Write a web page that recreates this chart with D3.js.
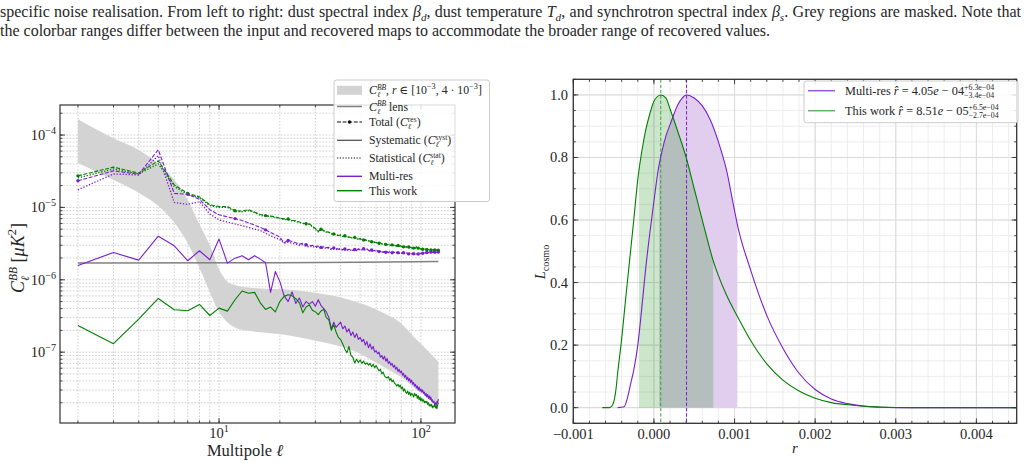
<!DOCTYPE html>
<html><head><meta charset="utf-8">
<script src="https://cdn.jsdelivr.net/npm/d3@7"></script>
<style>
body{margin:0;background:#fff;}
svg text{font-family:"Liberation Serif","Times New Roman","DejaVu Serif",serif;fill:#262626;white-space:pre;}
</style></head><body>
<svg id="c" width="1025" height="463"></svg>
<script>
// ================= DATA =================
// Left panel: multipoles 2..122, spectra in units of 1e-6 muK^2
const ellMin = 2, ellMax = 122;
const ells = d3.range(ellMin, ellMax + 1);
const unit = 1e-6;

const greenTotal = [27.3,36.0,29.8,44.0,20.5,15.6,14.0,10.9,10.3,10.3,
 9.0,8.9,9.3,8.6,8.0,7.7,7.6,7.4,7.1,6.95,
 6.9,6.6,6.55,6.3,6.1,5.95,5.9,5.5,5.1,4.65,
 5.0,4.8,4.6,4.55,4.35,4.3,4.25,4.1,4.15,3.98,
 4.05,3.92,3.9,3.84,3.8,3.86,3.7,3.66,3.7,3.58,
 3.55,3.6,3.45,3.47,3.4,3.35,3.4,3.28,3.3,3.24,
 3.2,3.25,3.14,3.11,3.15,3.08,3.05,3.1,3.02,3.0,
 3.04,2.98,3.0,2.95,2.92,2.98,2.9,2.98,2.88,2.92,
 2.85,2.9,2.82,2.86,2.8,2.84,2.78,2.82,2.76,2.8,
 2.74,2.78,2.72,2.88,2.7,2.74,2.68,2.72,2.66,2.7,
 2.64,2.68,2.66,2.62,2.66,2.6,2.64,2.62,2.6,2.63,
 2.58,2.62,2.6,2.57,2.61,2.58,2.56,2.6,2.57,2.55,
 2.56];
const greenStat = [25.5,34.0,29.0,40.0,19.5,15.0,13.6,10.6,10.0,10.0,
 8.8,8.7,9.0,8.5,7.8,7.5,7.5,7.2,7.0,6.8,
 6.8,6.5,6.4,6.2,6.0,5.8,5.85,5.4,5.0,4.6,
 4.9,4.75,4.55,4.5,4.3,4.25,4.2,4.05,4.1,3.95,
 4.0,3.88,3.86,3.8,3.77,3.82,3.68,3.63,3.67,3.55,
 3.53,3.57,3.43,3.45,3.38,3.33,3.38,3.26,3.28,3.22,
 3.18,3.23,3.12,3.1,3.13,3.06,3.04,3.08,3.0,2.99,
 3.02,2.97,2.99,2.94,2.91,2.96,2.89,2.96,2.87,2.9,
 2.84,2.89,2.81,2.85,2.79,2.83,2.77,2.81,2.75,2.79,
 2.73,2.77,2.71,2.86,2.69,2.73,2.67,2.71,2.65,2.69,
 2.63,2.67,2.65,2.61,2.65,2.59,2.63,2.61,2.59,2.62,
 2.57,2.61,2.59,2.56,2.6,2.57,2.55,2.59,2.56,2.54,
 2.55];
const purpleTotal = [23.3,32.0,28.7,62.5,15.6,15.2,12.9,9.3,7.9,7.4,
 7.0,6.6,6.1,5.7,5.3,4.9,4.5,4.2,3.9,3.25,
 3.5,3.38,3.25,3.11,3.2,3.05,2.95,3.0,2.88,2.92,
 2.8,2.85,2.78,2.82,2.68,2.75,2.7,2.65,2.72,2.6,
 2.66,2.58,2.64,2.6,2.55,2.62,2.56,2.68,2.6,2.64,
 2.68,2.6,2.68,2.55,2.52,2.58,2.5,2.55,2.48,2.52,
 2.45,2.5,2.43,2.41,2.46,2.4,2.44,2.38,2.45,2.4,
 2.36,2.42,2.38,2.34,2.4,2.37,2.33,2.38,2.36,2.31,
 2.36,2.33,2.3,2.35,2.31,2.28,2.34,2.3,2.27,2.32,
 2.29,2.26,2.31,2.28,2.3,2.27,2.32,2.29,2.35,2.3,
 2.33,2.36,2.32,2.37,2.34,2.38,2.35,2.4,2.36,2.38,
 2.42,2.37,2.4,2.43,2.38,2.41,2.39,2.42,2.4,2.41,
 2.42];
const purpleStat = [17.5,29.0,28.0,52.0,11.7,11.0,12.0,8.1,6.7,6.3,
 5.9,5.6,5.3,5.0,4.8,4.4,4.05,3.8,3.6,3.2,
 3.3,3.2,3.1,3.0,3.05,2.9,2.85,2.9,2.8,2.82,
 2.72,2.78,2.7,2.75,2.62,2.68,2.64,2.6,2.66,2.56,
 2.6,2.54,2.6,2.56,2.52,2.58,2.53,2.64,2.57,2.6,
 2.64,2.57,2.64,2.52,2.5,2.55,2.48,2.53,2.46,2.5,
 2.43,2.48,2.42,2.4,2.45,2.39,2.43,2.37,2.44,2.39,
 2.35,2.41,2.37,2.33,2.39,2.36,2.32,2.37,2.35,2.3,
 2.35,2.32,2.29,2.34,2.3,2.27,2.33,2.29,2.26,2.31,
 2.28,2.25,2.3,2.27,2.29,2.26,2.31,2.28,2.34,2.29,
 2.32,2.35,2.31,2.36,2.33,2.37,2.34,2.39,2.35,2.37,
 2.41,2.36,2.39,2.42,2.37,2.4,2.38,2.41,2.39,2.4,
 2.41];
const purpleSyst = [1.58,2.38,1.87,4.0,2.95,1.83,2.52,1.89,3.65,1.7,
 1.99,2.15,1.89,2.15,1.93,1.72,0.67,1.3,0.95,0.6,
 0.5,0.68,0.47,0.56,0.42,0.5,0.46,0.5,0.43,0.53,
 0.44,0.4,0.36,0.3,0.21,0.26,0.22,0.24,0.26,0.21,
 0.23,0.19,0.21,0.17,0.19,0.16,0.18,0.15,0.16,0.14,
 0.15,0.125,0.14,0.115,0.13,0.11,0.12,0.1,0.105,0.095,
 0.1,0.085,0.09,0.08,0.088,0.075,0.082,0.07,0.074,0.066,
 0.07,0.062,0.066,0.058,0.062,0.054,0.058,0.052,0.055,0.048,
 0.051,0.045,0.048,0.042,0.045,0.04,0.043,0.038,0.041,0.036,
 0.038,0.034,0.036,0.032,0.034,0.03,0.033,0.029,0.031,0.028,
 0.03,0.027,0.028,0.025,0.027,0.024,0.026,0.023,0.025,0.022,
 0.024,0.021,0.022,0.02,0.021,0.019,0.02,0.018,0.021,0.02,
 0.0225];
const greenSyst = [0.234,0.131,0.286,0.552,0.385,0.373,0.456,0.321,0.406,0.369,
 0.53,0.70,0.65,0.67,0.48,0.39,0.42,0.36,0.5,0.59,
 0.62,0.6,0.55,0.48,0.35,0.42,0.45,0.38,0.36,0.33,
 0.37,0.39,0.3,0.28,0.2,0.24,0.19,0.16,0.15,0.13,
 0.11,0.098,0.12,0.09,0.085,0.071,0.08,0.072,0.078,0.07,
 0.075,0.068,0.071,0.066,0.07,0.063,0.068,0.061,0.065,0.06,
 0.055,0.058,0.05,0.053,0.047,0.045,0.044,0.046,0.041,0.043,
 0.039,0.041,0.037,0.036,0.034,0.036,0.033,0.035,0.031,0.033,
 0.029,0.031,0.028,0.027,0.029,0.026,0.028,0.025,0.027,0.026,
 0.024,0.027,0.025,0.026,0.023,0.025,0.022,0.024,0.021,0.023,
 0.021,0.022,0.02,0.021,0.02,0.021,0.019,0.02,0.018,0.019,
 0.018,0.019,0.017,0.018,0.0175,0.019,0.017,0.018,0.0165,0.0185,
 0.02];
// lensing BB
const lensEll = [2, 20, 50, 122];
const lensCl = [1.70, 1.72, 1.75, 1.79];
// tensor band r in [1e-3, 4e-3]
const bandEll  = [2,3,4,5,6,7,8,9,10,11,12,14,16,21,30,45,65,79,95,110,122];
const bandLow  = [41,24,16,10.5,6.2,3.2,1.45,0.68,0.36,0.26,0.22,0.197,0.188,0.174,0.144,0.108,0.063,0.046,0.0305,0.023,0.0187];
const bandHigh = [165,90,62,40,24,12.7,5.8,3.0,1.4,0.95,0.85,0.78,0.76,0.74,0.66,0.52,0.35,0.255,0.15,0.1,0.074];

// Right panel: likelihoods
const multiresR = [-0.00045,-0.00037,-0.00033,-0.00029,-0.00025,-0.0002,-0.00015,-0.0001,-0.00005,0,0.00005,0.0001,0.00015,0.0002,0.00025,0.0003,0.00035,0.000405,0.0005,0.0006,0.0007,0.0008,0.0009,0.001,0.00104,0.0012,0.0014,0.0016,0.0018,0.002,0.0022,0.0024,0.0026,0.0028,0.003,0.0035,0.0045];
const multiresL = [0,0.003,0.03,0.075,0.12,0.2,0.32,0.45,0.56,0.66,0.755,0.82,0.87,0.905,0.94,0.97,0.99,1.0,0.99,0.965,0.92,0.85,0.76,0.63,0.58,0.44,0.295,0.19,0.11,0.058,0.028,0.013,0.005,0.0015,0,0,0];
const thisR = [-0.00064,-0.00055,-0.00051,-0.00047,-0.00045,-0.0004,-0.00035,-0.0003,-0.00025,-0.0002,-0.00015,-0.0001,-0.00005,0,0.000085,0.00015,0.0002,0.0003,0.0004,0.0005,0.0006,0.000735,0.0009,0.00104,0.0012,0.0014,0.0016,0.0018,0.002,0.0022,0.0025,0.0028,0.0032,0.0045];
const thisL = [0,0,0.01,0.06,0.11,0.22,0.35,0.475,0.6,0.73,0.82,0.89,0.94,0.98,1.0,0.99,0.955,0.88,0.8,0.7,0.6,0.47,0.36,0.29,0.215,0.14,0.088,0.053,0.03,0.016,0.007,0.002,0,0];
const rHat = {multi: 4.05e-4, ours: 8.51e-5};
const rErr = {multi: [3.4e-4, 6.3e-4], ours: [2.7e-4, 6.5e-4]};

// tick labels
const leftXTicks = [{v:10, e:"1"}, {v:100, e:"2"}];
const leftYTicks = [{v:1e-4, e:"−4"}, {v:1e-5, e:"−5"}, {v:1e-6, e:"−6"}, {v:1e-7, e:"−7"}];
const rightXTicks = [-0.001, 0, 0.001, 0.002, 0.003, 0.004];
const rightXLabels = ["−0.001","0.000","0.001","0.002","0.003","0.004"];
const rightYTicks = [0, 0.2, 0.4, 0.6, 0.8, 1.0];
const rightYLabels = ["0.0","0.2","0.4","0.6","0.8","1.0"];

// ================= STYLE =================
const PURPLE = "#7a1fcf", GREEN = "#008000";
const svg = d3.select("#c");

// rich text helper
function rich(parent, segs, fs, ws) {
  const g = parent.append("g");
  let cx = 0;
  segs.forEach(s => {
    if (typeof s === "string") s = {t: s};
    if (s.ss) {
      const sz = fs * 0.64;
      const a = g.append("text").attr("x", cx).attr("y", -fs * 0.38).style("font-size", sz + "px").style("font-style", s.i ? "italic" : null).text(s.ss[0]);
      const b = g.append("text").attr("x", cx).attr("y", fs * 0.26).style("font-size", sz + "px").style("font-style", s.i2 ? "italic" : null).text(s.ss[1]);
      cx += Math.max(a.node().getComputedTextLength(), b.node().getComputedTextLength());
    } else {
      const sz = (s.p || s.b) ? fs * 0.7 : fs;
      const yy = s.p ? -fs * 0.42 : s.b ? fs * 0.25 : 0;
      const t = g.append("text").attr("x", cx).attr("y", yy).style("font-size", sz + "px")
        .style("font-style", s.i ? "italic" : null).style("word-spacing", ws ? ws + "px" : null).text(s.t);
      cx += t.node().getComputedTextLength();
    }
  });
  return {g, w: cx};
}
function place(parent, segs, fs, x, y, anchor, rot, ws) {
  const outer = parent.append("g").attr("transform", `translate(${x},${y}) rotate(${rot || 0})`);
  const r = rich(outer, segs, fs, ws);
  const dx = anchor === "middle" ? -r.w / 2 : anchor === "end" ? -r.w : 0;
  r.g.attr("transform", `translate(${dx},0)`);
  return {outer, w: r.w};
}

// ================= CAPTION =================
const cap1 = ["specific noise realisation. From left to right: dust spectral index ", {t:"β",i:1}, {t:"d",i:1,b:1},
  ", dust temperature ", {t:"T",i:1}, {t:"d",i:1,b:1}, ", and synchrotron spectral index ", {t:"β",i:1}, {t:"s",i:1,b:1},
  ". Grey regions are masked. Note that"];
{
  const capFs = 16;
  const tmp = place(svg, cap1, capFs, 0, 17, "start");
  const nat = tmp.w; tmp.outer.remove();
  const nSpaces = cap1.map(s => (typeof s === "string" ? s : s.t).split(" ").length - 1).reduce((a, b) => a + b, 0);
  const ws = (1021 - nat) / nSpaces;
  place(svg, cap1, capFs, 0, 17, "start", 0, ws);
  place(svg, ["the colorbar ranges differ between the input and recovered maps to accommodate the broader range of recovered values."], capFs, 0, 36, "start");
}

// ================= LEFT PANEL =================
const LB = {x0: 60, x1: 455, y0: 105, y1: 423};
const xL = d3.scaleLog().domain([1.63, 147.5]).range([LB.x0, LB.x1]);
const yL = d3.scaleLog().domain([1.05e-8, 2.6e-4]).range([LB.y1, LB.y0]);
const gl = svg.append("g");
gl.append("clipPath").attr("id", "clipL").append("rect").attr("x", LB.x0).attr("y", LB.y0).attr("width", LB.x1 - LB.x0).attr("height", LB.y1 - LB.y0);

const xMinorL = [], yMinorL = [];
[1, 10, 100].forEach(d => { for (let k = 1; k <= 9; k++) { const v = k * d; if (v >= 1.63 && v <= 147.5) xMinorL.push(v); } });
[1e-8, 1e-7, 1e-6, 1e-5, 1e-4].forEach(d => { for (let k = 1; k <= 9; k++) { const v = k * d; if (v >= 1.05e-8 && v <= 2.6e-4) yMinorL.push(v); } });
// grid
gl.selectAll(".gx").data(xMinorL).join("line").attr("x1", d => xL(d)).attr("x2", d => xL(d)).attr("y1", LB.y0).attr("y2", LB.y1)
  .attr("stroke", "#c4c4c4").attr("stroke-width", 0.8).attr("stroke-dasharray", "1.6,1.6");
gl.selectAll(".gy").data(yMinorL).join("line").attr("y1", d => yL(d)).attr("y2", d => yL(d)).attr("x1", LB.x0).attr("x2", LB.x1)
  .attr("stroke", "#c4c4c4").attr("stroke-width", 0.8).attr("stroke-dasharray", "1.6,1.6");

const dl = gl.append("g").attr("clip-path", "url(#clipL)");
// band
const bandData = bandEll.map((l, i) => ({l, lo: bandLow[i] * unit, hi: bandHigh[i] * unit}));
dl.append("path").datum(bandData).attr("fill", "#d3d3d3")
  .attr("d", d3.area().x(d => xL(d.l)).y0(d => yL(d.lo)).y1(d => yL(d.hi)).curve(d3.curveMonotoneX));
// lens
dl.append("path").datum(lensEll.map((l, i) => [l, lensCl[i] * unit])).attr("fill", "none").attr("stroke", "#808080").attr("stroke-width", 1.5)
  .attr("d", d3.line().x(d => xL(d[0])).y(d => yL(d[1])));
const lineL = d3.line().x(d => xL(d[0])).y(d => yL(d[1]));
function series(arr, color, dash, w) {
  const pts = ells.map((l, i) => [l, arr[i] * unit]);
  dl.append("path").datum(pts).attr("fill", "none").attr("stroke", color).attr("stroke-width", w)
    .attr("stroke-dasharray", dash).attr("stroke-linejoin", "round").attr("d", lineL);
  return pts;
}
series(greenStat, GREEN, "1.3,1.7", 1.3);
series(purpleStat, PURPLE, "1.3,1.7", 1.3);
const gt = series(greenTotal, GREEN, "4,1.6", 1.1);
const pt = series(purpleTotal, PURPLE, "4,1.6", 1.1);
[[gt, GREEN], [pt, PURPLE]].forEach(([pts, c]) => {
  dl.selectAll(null).data(pts.filter((d, i) => i % 5 === 0)).join("circle").attr("cx", d => xL(d[0])).attr("cy", d => yL(d[1])).attr("r", 1.7).attr("fill", c);
});
series(purpleSyst, PURPLE, null, 1.1);
series(greenSyst, GREEN, null, 1.1);

// ticks (inward, all sides)
function ticksAt(g, sc, vals, len, orient, B) {
  vals.forEach(v => {
    const p = sc(v);
    if (orient === "x") {
      g.append("line").attr("x1", p).attr("x2", p).attr("y1", B.y1).attr("y2", B.y1 - len).attr("stroke", "#333").attr("stroke-width", 0.9);
      g.append("line").attr("x1", p).attr("x2", p).attr("y1", B.y0).attr("y2", B.y0 + len).attr("stroke", "#333").attr("stroke-width", 0.9);
    } else {
      g.append("line").attr("y1", p).attr("y2", p).attr("x1", B.x0).attr("x2", B.x0 + len).attr("stroke", "#333").attr("stroke-width", 0.9);
      g.append("line").attr("y1", p).attr("y2", p).attr("x1", B.x1).attr("x2", B.x1 - len).attr("stroke", "#333").attr("stroke-width", 0.9);
    }
  });
}
ticksAt(gl, xL, xMinorL, 2.5, "x", LB);
ticksAt(gl, xL, leftXTicks.map(d => d.v), 5, "x", LB);
ticksAt(gl, yL, yMinorL, 2.5, "y", LB);
ticksAt(gl, yL, leftYTicks.map(d => d.v), 5, "y", LB);
gl.append("rect").attr("x", LB.x0).attr("y", LB.y0).attr("width", LB.x1 - LB.x0).attr("height", LB.y1 - LB.y0)
  .attr("fill", "none").attr("stroke", "#333").attr("stroke-width", 1.2);
// tick labels
leftXTicks.forEach(t => place(gl, ["10", {t: t.e, p: 1}], 14.5, xL(t.v), 438, "middle"));
leftYTicks.forEach(t => place(gl, ["10", {t: t.e, p: 1}], 14.5, 56, yL(t.v) + 5, "end"));
place(gl, ["Multipole ", {t: "ℓ", i: 1}], 16.5, 245, 456, "middle");
place(gl, [{t: "C", i: 1}, {ss: ["BB", "ℓ"], i: 1, i2: 1}, " [", {t: "μK", i: 1}, {t: "2", p: 1}, "]"], 18, 24, 258, "middle", -90);

// legend
{
  const lg = gl.append("g");
  lg.append("rect").attr("x", 334).attr("y", 80).attr("width", 155.5).attr("height", 121.5).attr("rx", 2.5)
    .attr("fill", "white").attr("fill-opacity", 0.85).attr("stroke", "#cccccc").attr("stroke-width", 1);
  const fs = 11.8, tx = 369, lx0 = 337, lx1 = 362;
  const rows = [90.3, 106.5, 122, 140.3, 158, 176.3, 190.7];
  lg.append("rect").attr("x", lx0).attr("y", rows[0] - 4.5).attr("width", lx1 - lx0).attr("height", 9).attr("fill", "#d3d3d3");
  const ln = (y, c, dash, w) => lg.append("line").attr("x1", lx0).attr("x2", lx1).attr("y1", y).attr("y2", y).attr("stroke", c).attr("stroke-width", w).attr("stroke-dasharray", dash);
  ln(rows[1], "#808080", null, 1.5);
  ln(rows[2], "#111", "4,1.6", 1.1);
  lg.append("circle").attr("cx", (lx0 + lx1) / 2).attr("cy", rows[2]).attr("r", 1.7).attr("fill", "#111");
  ln(rows[3], "#555", null, 1.3);
  ln(rows[4], "#111", "1.2,1.6", 1.1);
  ln(rows[5], PURPLE, null, 1.4);
  ln(rows[6], GREEN, null, 1.4);
  const C = [{t: "C", i: 1}];
  const texts = [
    [...C, {ss: ["BB", "ℓ"], i: 1, i2: 1}, ", ", {t: "r", i: 1}, " ∈ [10", {t: "−3", p: 1}, ", 4 · 10", {t: "−3", p: 1}, "]"],
    [...C, {ss: ["BB", "ℓ"], i: 1, i2: 1}, " lens"],
    ["Total (", ...C, {ss: ["res", "ℓ"], i2: 1}, ")"],
    ["Systematic (", ...C, {ss: ["syst", "ℓ"], i2: 1}, ")"],
    ["Statistical (", ...C, {ss: ["stat", "ℓ"], i2: 1}, ")"],
    ["Multi-res"],
    ["This work"]
  ];
  texts.forEach((t, i) => place(lg, t, fs, tx, rows[i] + 4, "start"));
}

// ================= RIGHT PANEL =================
const RB = {x0: 573.3, x1: 1016.7, y0: 79.3, y1: 423.3};
const xR = d3.scaleLinear().domain([-0.001, 0.0045]).range([RB.x0, RB.x1]);
const yR = d3.scaleLinear().domain([-0.05, 1.05]).range([RB.y1, RB.y0]);
const gr = svg.append("g");
gr.append("clipPath").attr("id", "clipR").append("rect").attr("x", RB.x0).attr("y", RB.y0).attr("width", RB.x1 - RB.x0).attr("height", RB.y1 - RB.y0);
const xMinorR = d3.range(-10, 46, 2).map(k => k * 1e-4);
const yMinorR = d3.range(-1, 22, 1).map(k => k * 0.05).filter(v => v >= -0.05 && v <= 1.05);
gr.selectAll(".mx").data(xMinorR).join("line").attr("x1", d => xR(d)).attr("x2", d => xR(d)).attr("y1", RB.y0).attr("y2", RB.y1).attr("stroke", "#ebebeb").attr("stroke-width", 0.9);
gr.selectAll(".my").data(yMinorR).join("line").attr("y1", d => yR(d)).attr("y2", d => yR(d)).attr("x1", RB.x0).attr("x2", RB.x1).attr("stroke", "#ebebeb").attr("stroke-width", 0.9);
gr.selectAll(".Mx").data(rightXTicks).join("line").attr("x1", d => xR(d)).attr("x2", d => xR(d)).attr("y1", RB.y0).attr("y2", RB.y1).attr("stroke", "#dadada").attr("stroke-width", 1);
gr.selectAll(".My").data(rightYTicks).join("line").attr("y1", d => yR(d)).attr("y2", d => yR(d)).attr("x1", RB.x0).attr("x2", RB.x1).attr("stroke", "#dadada").attr("stroke-width", 1);

const dr = gr.append("g").attr("clip-path", "url(#clipR)");
const mPts = multiresR.map((r, i) => [r, multiresL[i]]);
const tPts = thisR.map((r, i) => [r, thisL[i]]);
const areaR = d3.area().x(d => xR(d[0])).y0(yR(0)).y1(d => yR(d[1])).curve(d3.curveMonotoneX);
const lineR = d3.line().x(d => xR(d[0])).y(d => yR(d[1])).curve(d3.curveMonotoneX);
function clipRange(id, lo, hi) {
  gr.append("clipPath").attr("id", id).append("rect").attr("x", xR(lo)).attr("y", RB.y0).attr("width", xR(hi) - xR(lo)).attr("height", RB.y1 - RB.y0);
}
clipRange("cm", rHat.multi - rErr.multi[0], rHat.multi + rErr.multi[1]);
clipRange("ct", rHat.ours - rErr.ours[0], rHat.ours + rErr.ours[1]);
dr.append("path").datum(mPts).attr("clip-path", "url(#cm)").attr("fill", "#e1cded").attr("d", areaR);
dr.append("path").datum(tPts).attr("clip-path", "url(#ct)").attr("fill", GREEN).attr("fill-opacity", 0.2).attr("d", areaR);
dr.append("line").attr("x1", xR(rHat.ours)).attr("x2", xR(rHat.ours)).attr("y1", RB.y0).attr("y2", RB.y1).attr("stroke", "#3aa63a").attr("stroke-width", 1).attr("stroke-dasharray", "3.5,1.8");
dr.append("line").attr("x1", xR(rHat.multi)).attr("x2", xR(rHat.multi)).attr("y1", RB.y0).attr("y2", RB.y1).attr("stroke", PURPLE).attr("stroke-width", 1).attr("stroke-dasharray", "3.5,1.8");
dr.append("path").datum(mPts).attr("fill", "none").attr("stroke", PURPLE).attr("stroke-width", 1.1).attr("d", lineR);
dr.append("path").datum(tPts).attr("fill", "none").attr("stroke", GREEN).attr("stroke-width", 1.1).attr("d", lineR);

ticksAt(gr, xR, xMinorR, 2.5, "x", RB);
ticksAt(gr, xR, rightXTicks, 5, "x", RB);
ticksAt(gr, yR, yMinorR, 2.5, "y", RB);
ticksAt(gr, yR, rightYTicks, 5, "y", RB);
gr.append("rect").attr("x", RB.x0).attr("y", RB.y0).attr("width", RB.x1 - RB.x0).attr("height", RB.y1 - RB.y0)
  .attr("fill", "none").attr("stroke", "#333").attr("stroke-width", 1.3);
rightXTicks.forEach((v, i) => place(gr, [rightXLabels[i]], 14.5, xR(v), 439, "middle"));
rightYTicks.forEach((v, i) => place(gr, [rightYLabels[i]], 14.5, 568, yR(v) + 5, "end"));
place(gr, [{t: "r", i: 1}], 15, 795, 453, "middle");
place(gr, [{t: "L", i: 1}, {t: "cosmo", b: 1}], 14.5, 545, 262, "middle", -90);

// legend
{
  const lg = gr.append("g");
  lg.append("rect").attr("x", 804).attr("y", 81).attr("width", 214).attr("height", 41.7).attr("rx", 2.5)
    .attr("fill", "white").attr("fill-opacity", 0.85).attr("stroke", "#cccccc").attr("stroke-width", 1);
  const rows = [90.7, 110.7];
  lg.append("line").attr("x1", 808).attr("x2", 835).attr("y1", rows[0]).attr("y2", rows[0]).attr("stroke", PURPLE).attr("stroke-opacity", 0.75).attr("stroke-width", 1.5);
  lg.append("line").attr("x1", 808).attr("x2", 835).attr("y1", rows[1]).attr("y2", rows[1]).attr("stroke", GREEN).attr("stroke-opacity", 0.6).attr("stroke-width", 1.5);
  place(lg, ["Multi-res ", {t: "r̂", i: 1}, " = 4.05", {t: "e", i: 1}, " − 04", {ss: ["+6.3e−04", "−3.4e−04"]}], 12.3, 845, rows[0] + 4, "start");
  place(lg, ["This work ", {t: "r̂", i: 1}, " = 8.51", {t: "e", i: 1}, " − 05", {ss: ["+6.5e−04", "−2.7e−04"]}], 12.3, 845, rows[1] + 4, "start");
}
</script>
</body></html>
